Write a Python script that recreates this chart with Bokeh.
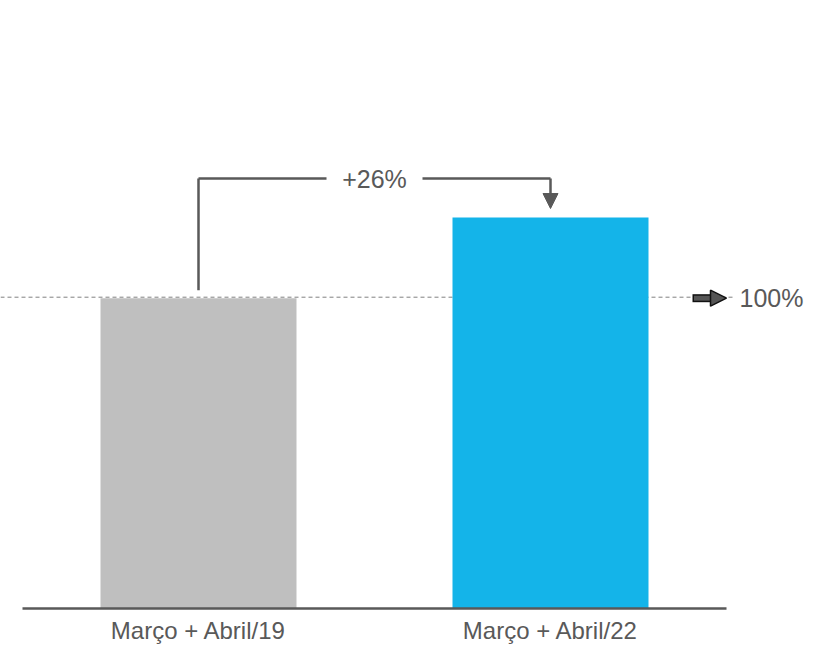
from bokeh.plotting import figure
from bokeh.models import Range1d, Arrow, NormalHead
from bokeh.core.properties import value
from bokeh.embed import file_html
from bokeh.resources import INLINE

# ---- data ----
categories = ["Março + Abril/19", "Março + Abril/22"]
values = [100, 126]
bar_colors = ["#BFBFBF", "#14B4E9"]
reference_value = 100
growth_label = "+26%"
reference_label = "100%"

# ---- layout constants ----
W, H = 806, 646
PX_X = 352.0          # pixels per category step
PX_Y = 3.103          # pixels per value unit
X0_PX = 198.0         # pixel position of first category centre
BASE_PX = 608.0       # pixel position of the value baseline (from top)
FONT = value("Liberation Sans")
TXT = "#595959"

xs = list(range(len(categories)))

p = figure(width=W, height=H, output_backend="svg", toolbar_location=None,
           x_range=Range1d(-X0_PX / PX_X, (W - X0_PX) / PX_X),
           y_range=Range1d(-(H - BASE_PX) / PX_Y, BASE_PX / PX_Y),
           x_axis_type=None, y_axis_type=None, min_border=0,
           outline_line_color=None)
p.grid.visible = False
p.background_fill_color = "white"

# reference dashed line
p.segment(x0=[p.x_range.start], y0=[reference_value + 1 / PX_Y],
          x1=[1.5 + 9 / PX_X], y1=[reference_value + 1 / PX_Y],
          line_color="#808080", line_width=1, line_dash="4 3")

# bars
p.vbar(x=xs, top=values, width=196 / PX_X, fill_color=bar_colors, line_color=None)

# baseline
p.segment(x0=[-0.5], y0=[0], x1=[len(categories) - 0.5], y1=[0],
          line_color="#595959", line_width=2.5)

# category labels
p.text(x=xs, y=[-8 / PX_Y] * len(xs), text=categories, text_align="center",
       text_baseline="top", text_font=FONT, text_font_size="24px", text_color=TXT)

# growth bracket
bracket_y = max(values) + 39 / PX_Y
mid = (xs[0] + xs[1]) / 2
gap = 48 / PX_X
p.segment(x0=[xs[0], xs[0], mid + gap], y0=[values[0] + 8 / PX_Y, bracket_y, bracket_y],
          x1=[xs[0], mid - gap, xs[1]], y1=[bracket_y, bracket_y, bracket_y],
          line_color="#595959", line_width=2.5)
p.add_layout(Arrow(end=NormalHead(size=15, fill_color="#595959", line_color="#595959", line_width=1),
                   x_start=xs[1], y_start=bracket_y, x_end=xs[1], y_end=values[1] + 9 / PX_Y,
                   line_color="#595959", line_width=2.5))
p.text(x=[mid], y=[bracket_y], text=[growth_label], text_align="center",
       text_baseline="middle", text_font=FONT, text_font_size="25px", text_color=TXT)

# reference arrow + label
tip = 1.5
ax0 = tip - 34 / PX_X
p.add_layout(Arrow(end=None, x_start=ax0, y_start=reference_value, x_end=tip - 14 / PX_X,
                   y_end=reference_value, line_color="#111111", line_width=8))
p.add_layout(Arrow(end=None, x_start=ax0 + 1.5 / PX_X, y_start=reference_value,
                   x_end=tip - 12 / PX_X, y_end=reference_value,
                   line_color="#555555", line_width=5))
p.add_layout(Arrow(end=NormalHead(size=16, fill_color="#555555", line_color="#111111", line_width=1.5),
                   x_start=tip - 16 / PX_X, y_start=reference_value, x_end=tip, y_end=reference_value,
                   line_color=None, line_width=0))
p.text(x=[tip], y=[reference_value], x_offset=13, text=[reference_label], text_align="left",
       text_baseline="middle", text_font=FONT, text_font_size="25px", text_color=TXT)

open("out.html", "w").write(file_html(p, INLINE))
